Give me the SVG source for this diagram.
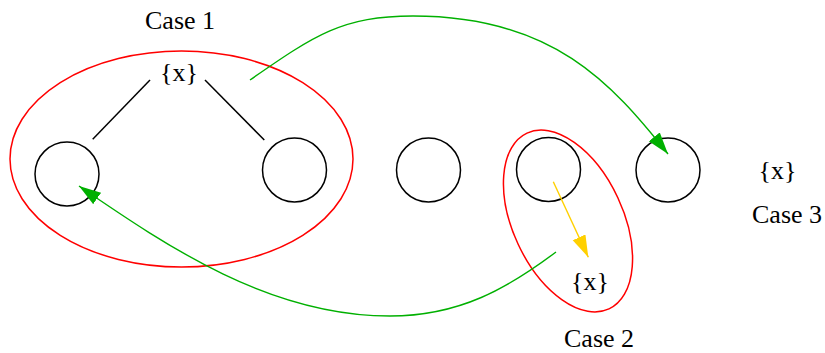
<svg xmlns="http://www.w3.org/2000/svg" width="825" height="353" viewBox="0 0 825 353">
  <style>
    .node { fill: none; stroke: #000; stroke-width: 1.5; }
    .group { fill: none; stroke: #ff0000; stroke-width: 1.5; }
    .edge { fill: none; stroke: #000; stroke-width: 1.5; }
    .green { fill: none; stroke: #00b000; stroke-width: 1.4; }
    .yellow { fill: none; stroke: #ffd000; stroke-width: 1.4; }
    text { font-family: "Liberation Serif", "Times New Roman", serif; font-size: 26px; fill: #000; }
  </style>
  <defs>
    <marker id="ahg" markerUnits="userSpaceOnUse" markerWidth="24" markerHeight="16" refX="22" refY="7" orient="auto">
      <path d="M0,0 L22,7 L0,14 z" fill="#00b000"/>
    </marker>
    <marker id="ahy" markerUnits="userSpaceOnUse" markerWidth="24" markerHeight="16" refX="22" refY="7" orient="auto">
      <path d="M0,0 L22,7 L0,14 z" fill="#ffd000"/>
    </marker>
  </defs>

  <g id="case1">
    <ellipse class="group" cx="181.5" cy="159" rx="171.5" ry="108"/>
    <text x="145" y="28.5">Case 1</text>
  </g>
  <g id="case2">
    <ellipse class="group" cx="568" cy="221" rx="55" ry="97" transform="rotate(-25 568 221)"/>
    <text x="564" y="347">Case 2</text>
  </g>
  <g id="case3">
    <text x="752" y="223">Case 3</text>
  </g>

  <g id="set-top"><text x="179" y="81" text-anchor="middle">{x}</text></g>
  <g id="set-bottom"><text x="590" y="290" text-anchor="middle">{x}</text></g>
  <g id="set-right"><text x="777.5" y="179" text-anchor="middle">{x}</text></g>

  <g id="n1"><circle class="node" cx="67" cy="174" r="32"/></g>
  <g id="n2"><circle class="node" cx="294.5" cy="170" r="32"/></g>
  <g id="n3"><circle class="node" cx="428.5" cy="170" r="32"/></g>
  <g id="n4"><circle class="node" cx="548.5" cy="169.5" r="32"/></g>
  <g id="n5"><circle class="node" cx="668" cy="170" r="32"/></g>

  <g id="connectors">
    <line class="edge" x1="150" y1="80" x2="92.7" y2="139.3"/>
    <line class="edge" x1="205" y1="80" x2="264.3" y2="140"/>
    <path class="green" d="M250,80 C315.6,34.4 343,16 413,16 C553,16 612,83.8 668,154" marker-end="url(#ahg)"/>
    <path class="green" d="M556,252 C508,288 460,316 390,316 C270,316 169,247.6 79,186" marker-end="url(#ahg)"/>
    <line class="yellow" x1="553.3" y1="181.7" x2="588.3" y2="257.3" marker-end="url(#ahy)"/>
  </g>
</svg>
